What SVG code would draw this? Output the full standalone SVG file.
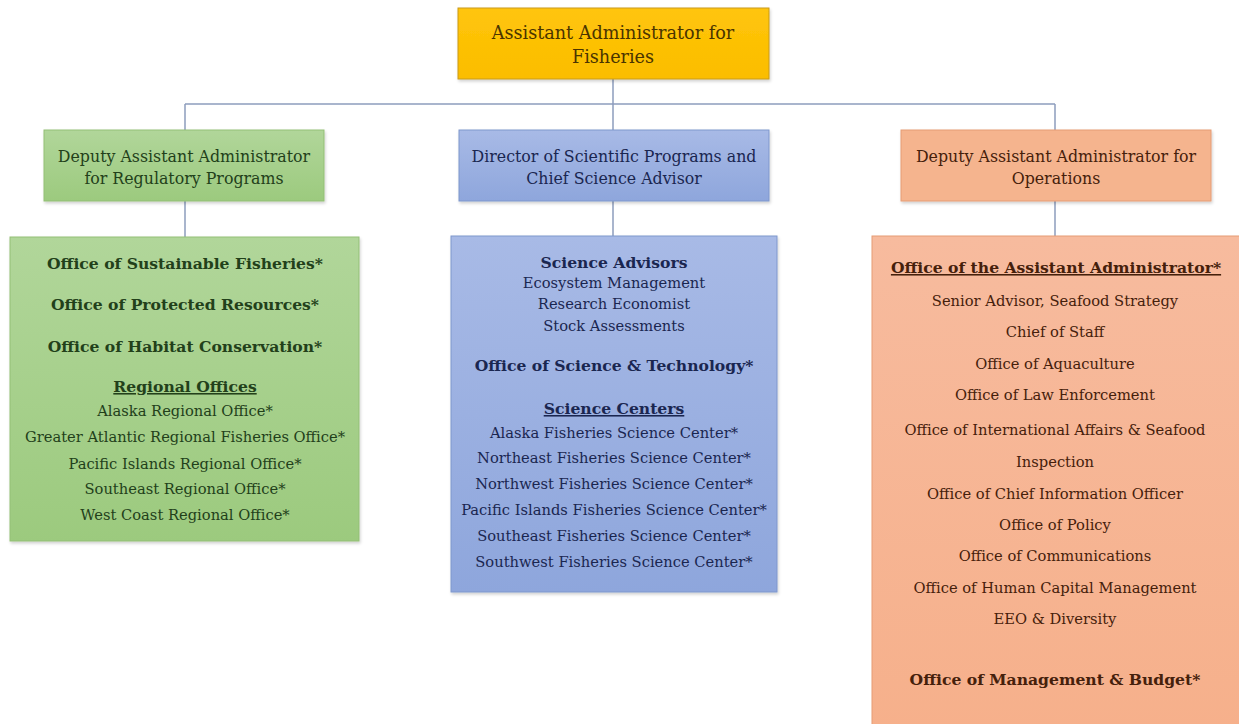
<svg xmlns="http://www.w3.org/2000/svg" width="1239" height="724" viewBox="0 0 1239 724">
  <defs>
    <linearGradient id="gGreen" x1="0" y1="0" x2="0" y2="1">
      <stop offset="0" stop-color="#b1d69a"/>
      <stop offset="1" stop-color="#9cca7e"/>
    </linearGradient>
    <linearGradient id="gBlue" x1="0" y1="0" x2="0" y2="1">
      <stop offset="0" stop-color="#a8bae6"/>
      <stop offset="1" stop-color="#8ea6dc"/>
    </linearGradient>
    <linearGradient id="gSalmon" x1="0" y1="0" x2="0" y2="1">
      <stop offset="0" stop-color="#f7bb9e"/>
      <stop offset="1" stop-color="#f6b08b"/>
    </linearGradient>
    <linearGradient id="gGold" x1="0" y1="0" x2="0" y2="1">
      <stop offset="0" stop-color="#ffc50a"/>
      <stop offset="1" stop-color="#fbbd00"/>
    </linearGradient>
    <filter id="shadow" x="-5%" y="-5%" width="110%" height="115%">
      <feDropShadow dx="1" dy="2" stdDeviation="1.5" flood-color="#000" flood-opacity="0.18"/>
    </filter>
  </defs>
  <style>
    text { font-family: "DejaVu Serif", "Liberation Serif", serif; text-anchor: middle; }
    .hdr { font-size: 15.8px; }
    .top { font-size: 17.6px; }
    .item { font-size: 14.7px; }
    .bold { font-size: 15.6px; font-weight: bold; }
    .ul { text-decoration: underline; }
    .link { fill: none; stroke: #8c9dbd; stroke-width: 1.5; }
    .green text { fill: #22401a; }
    .blue text { fill: #1a2650; }
    .salmon text { fill: #45200b; }
  </style>
  <rect width="1239" height="724" fill="#ffffff"/>

  <!-- connectors -->
  <g id="connectors">
    <path class="link" d="M613 79 V104"/>
    <path class="link" d="M185 104 H1055"/>
    <path class="link" d="M185 104 V130"/>
    <path class="link" d="M613 104 V130"/>
    <path class="link" d="M1055 104 V130"/>
    <path class="link" d="M185 201 V237"/>
    <path class="link" d="M613 201 V236"/>
    <path class="link" d="M1055 201 V236"/>
  </g>

  <!-- top: Assistant Administrator -->
  <g id="node-aa">
    <rect x="458" y="8" width="311" height="71" fill="url(#gGold)" stroke="#c99a1a" stroke-width="1" filter="url(#shadow)"/>
    <text class="top" x="613" y="39" fill="#4a3400">Assistant Administrator for</text>
    <text class="top" x="613" y="63" fill="#4a3400">Fisheries</text>
  </g>

  <!-- regulatory branch -->
  <g id="node-daa-reg" class="green">
    <rect x="44" y="130" width="280" height="71" fill="url(#gGreen)" stroke="#93bf76" stroke-width="1" filter="url(#shadow)"/>
    <text class="hdr" x="184" y="162">Deputy Assistant Administrator</text>
    <text class="hdr" x="184" y="184">for Regulatory Programs</text>
  </g>
  <g id="node-reg-offices" class="green">
    <rect x="10" y="237" width="349" height="304" fill="url(#gGreen)" stroke="#93bf76" stroke-width="1" filter="url(#shadow)"/>
    <text class="bold" x="185" y="269">Office of Sustainable Fisheries*</text>
    <text class="bold" x="185" y="310">Office of Protected Resources*</text>
    <text class="bold" x="185" y="352">Office of Habitat Conservation*</text>
    <text class="bold ul" x="185" y="392">Regional Offices</text>
    <text class="item" x="185" y="416">Alaska Regional Office*</text>
    <text class="item" x="185" y="442">Greater Atlantic Regional Fisheries Office*</text>
    <text class="item" x="185" y="469">Pacific Islands Regional Office*</text>
    <text class="item" x="185" y="494">Southeast Regional Office*</text>
    <text class="item" x="185" y="520">West Coast Regional Office*</text>
  </g>

  <!-- science branch -->
  <g id="node-dsp" class="blue">
    <rect x="459" y="130" width="310" height="71" fill="url(#gBlue)" stroke="#7f97cc" stroke-width="1" filter="url(#shadow)"/>
    <text class="hdr" x="614" y="162">Director of Scientific Programs and</text>
    <text class="hdr" x="614" y="184">Chief Science Advisor</text>
  </g>
  <g id="node-science" class="blue">
    <rect x="451" y="236" width="326" height="356" fill="url(#gBlue)" stroke="#7f97cc" stroke-width="1" filter="url(#shadow)"/>
    <text class="bold" x="614" y="268">Science Advisors</text>
    <text class="item" x="614" y="288">Ecosystem Management</text>
    <text class="item" x="614" y="309">Research Economist</text>
    <text class="item" x="614" y="331">Stock Assessments</text>
    <text class="bold" x="614" y="371">Office of Science &amp; Technology*</text>
    <text class="bold ul" x="614" y="414">Science Centers</text>
    <text class="item" x="614" y="438">Alaska Fisheries Science Center*</text>
    <text class="item" x="614" y="463">Northeast Fisheries Science Center*</text>
    <text class="item" x="614" y="489">Northwest Fisheries Science Center*</text>
    <text class="item" x="614" y="515">Pacific Islands Fisheries Science Center*</text>
    <text class="item" x="614" y="541">Southeast Fisheries Science Center*</text>
    <text class="item" x="614" y="567">Southwest Fisheries Science Center*</text>
  </g>

  <!-- operations branch -->
  <g id="node-daa-ops" class="salmon">
    <rect x="901" y="130" width="310" height="71" fill="#f5b48e" stroke="#e59c74" stroke-width="1" filter="url(#shadow)"/>
    <text class="hdr" x="1056" y="162">Deputy Assistant Administrator for</text>
    <text class="hdr" x="1056" y="184">Operations</text>
  </g>
  <g id="node-ops" class="salmon">
    <rect x="872" y="236" width="372" height="495" fill="url(#gSalmon)" stroke="#e59c74" stroke-width="1"/>
    <text class="bold ul" x="1056" y="273">Office of the Assistant Administrator*</text>
    <text class="item" x="1055" y="306">Senior Advisor, Seafood Strategy</text>
    <text class="item" x="1055" y="337">Chief of Staff</text>
    <text class="item" x="1055" y="369">Office of Aquaculture</text>
    <text class="item" x="1055" y="400">Office of Law Enforcement</text>
    <text class="item" x="1055" y="435">Office of International Affairs &amp; Seafood</text>
    <text class="item" x="1055" y="467">Inspection</text>
    <text class="item" x="1055" y="499">Office of Chief Information Officer</text>
    <text class="item" x="1055" y="530">Office of Policy</text>
    <text class="item" x="1055" y="561">Office of Communications</text>
    <text class="item" x="1055" y="593">Office of Human Capital Management</text>
    <text class="item" x="1055" y="624">EEO &amp; Diversity</text>
    <text class="bold" x="1055" y="685">Office of Management &amp; Budget*</text>
  </g>
</svg>
